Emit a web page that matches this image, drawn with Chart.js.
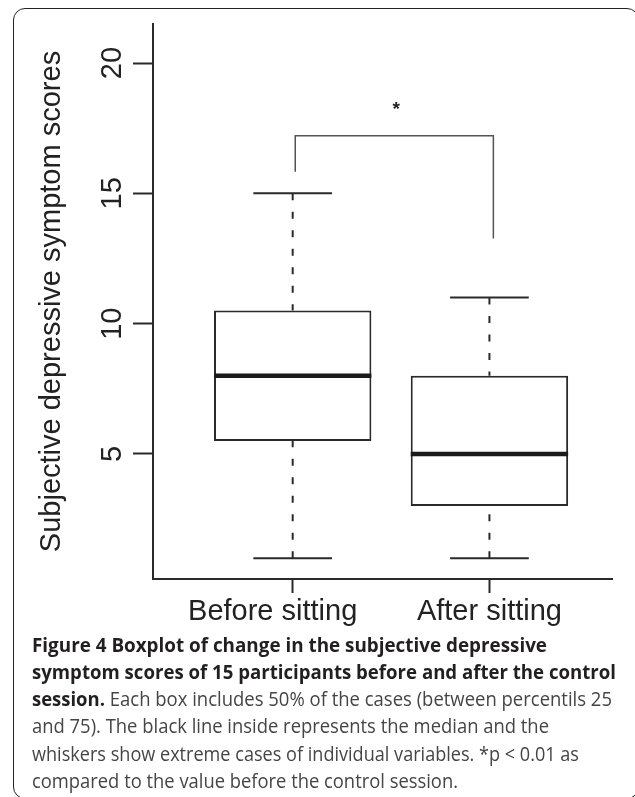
<!DOCTYPE html>
<html>
<head>
<meta charset="utf-8">
<script src="https://cdn.jsdelivr.net/npm/chart.js@4.4.1/dist/chart.umd.min.js"></script>
<style>
  html, body { margin: 0; padding: 0; background: #fff; }
  body { width: 635px; height: 797px; position: relative; overflow: hidden; }
  #frame { position: absolute; left: 13px; top: 8px; width: 626px; height: 791px;
           border: 1.5px solid #222; border-radius: 12px; box-sizing: border-box; }
  #wrap { position: absolute; left: 0; top: 0; width: 635px; height: 640px; }
  .ln { position: absolute; left: 32px; white-space: nowrap; font-family: 'Open Sans', 'Noto Sans', sans-serif;
        font-size: 20px; line-height: 20px; color: #454545; transform-origin: 0 0; }
  .ln b { color: #231f20; font-weight: 700; }
</style>
</head>
<body>
<div id="frame"></div>
<div id="wrap"><canvas id="chart" width="635" height="640"></canvas></div>

<div class="ln" style="top:635px"><b>Figure 4 Boxplot of change in the subjective depressive</b></div>
<div class="ln" style="top:662px"><b>symptom scores of 15 participants before and after the control</b></div>
<div class="ln" style="top:689px"><b>session.</b> Each box includes 50% of the cases (between percentils 25</div>
<div class="ln" style="top:716px">and 75). The black line inside represents the median and the</div>
<div class="ln" style="top:744px">whiskers show extreme cases of individual variables. *p &lt; 0.01 as</div>
<div class="ln" style="top:771px">compared to the value before the control session.</div>

<script>
// Box plot statistics, one entry per group
const categories = ['Before sitting', 'After sitting'];
const positions = [1, 2];
const whiskerLow = [1, 1];
const quartile1 = [5.5, 3];
const medians = [8, 5];
const quartile3 = [10.5, 8];
const whiskerHigh = [15, 11];
const yTickValues = [5, 10, 15, 20];

// significance bracket between the two groups (*p < 0.01)
const bracketX = [1.013, 2.02];
const bracketTop = 17.21;
const bracketEnds = [15.83, 13.27];
const starLabel = '*';
const starPos = [1.526, 18.42];

// caption line widths in the figure, used to squeeze the text to fit
const captionWidths = [515, 584, 580, 517, 547, 426];

const BOX_HALF = 0.4;
const CAP_HALF = 0.2;
const ink = '#2a2a2a';
const xLabelShift = [-20, 0];

Chart.defaults.font.family = '"Liberation Sans", Arial, Helvetica, sans-serif';
Chart.defaults.color = '#222';

function seg(x0, y0, x1, y1) {
  return [{x: x0, y: y0}, {x: x1, y: y1}];
}

function lineSet(data, width, color, dash) {
  return {
    type: 'line',
    data: data,
    borderColor: color,
    borderWidth: width,
    borderDash: dash || [],
    pointRadius: 0,
    fill: false,
    tension: 0,
    order: 1
  };
}

const datasets = [];
positions.forEach((p, i) => {
  const med = lineSet(seg(p - BOX_HALF, medians[i], p + BOX_HALF, medians[i]), 4.5, '#1b1b1b');
  med.order = 0;
  datasets.push(med);
  // whiskers are drawn from the extreme towards the box, like R does
  datasets.push(lineSet(seg(p, whiskerHigh[i], p, quartile3[i]), 2, ink, [7, 11.5]));
  datasets.push(lineSet(seg(p, whiskerLow[i], p, quartile1[i]), 2, ink, [7, 11.5]));
  datasets.push(lineSet(seg(p - CAP_HALF, whiskerHigh[i], p + CAP_HALF, whiskerHigh[i]), 2, ink));
  datasets.push(lineSet(seg(p - CAP_HALF, whiskerLow[i], p + CAP_HALF, whiskerLow[i]), 2, ink));
});

datasets.push(lineSet([
  {x: bracketX[0], y: bracketEnds[0]},
  {x: bracketX[0], y: bracketTop},
  {x: bracketX[1], y: bracketTop},
  {x: bracketX[1], y: bracketEnds[1]}
], 1.5, '#555'));

datasets.push({
  type: 'bar',
  data: positions.map((p, i) => ({x: p, y: [quartile1[i], quartile3[i]]})),
  backgroundColor: '#fff',
  borderColor: ink,
  borderWidth: 2,
  borderSkipped: false,
  barPercentage: 0.8,
  categoryPercentage: 1,
  order: 2
});

// x labels and the asterisk are drawn by hand
const labelPlugin = {
  id: 'boxLabels',
  afterDraw(chart) {
    const {ctx, chartArea} = chart;
    const x = chart.scales.x, y = chart.scales.y;
    ctx.save();
    ctx.fillStyle = '#222';
    ctx.textAlign = 'center';
    ctx.textBaseline = 'alphabetic';
    ctx.font = '29px "Liberation Sans", Arial, sans-serif';
    categories.forEach((c, i) => {
      ctx.fillText(c, x.getPixelForValue(positions[i]) + xLabelShift[i], chartArea.bottom + 41);
    });
    ctx.font = 'bold 19px "Liberation Sans", Arial, sans-serif';
    ctx.fillText(starLabel, x.getPixelForValue(starPos[0]), y.getPixelForValue(starPos[1]) + 11);
    ctx.restore();
  }
};

new Chart(document.getElementById('chart').getContext('2d'), {
  type: 'bar',
  data: { datasets: datasets },
  plugins: [labelPlugin],
  options: {
    responsive: false,
    animation: false,
    events: [],
    layout: { padding: { top: 24, right: 23, bottom: 0, left: 0 } },
    plugins: { legend: { display: false }, tooltip: { enabled: false } },
    scales: {
      x: {
        type: 'linear',
        min: 0.29,
        max: 2.623,
        offset: false,
        afterBuildTicks: scale => { scale.ticks = positions.map(v => ({value: v})); },
        afterFit: scale => { scale.height = 61; },
        ticks: { display: false },
        grid: { offset: false, drawOnChartArea: false, drawTicks: true, tickLength: 14, tickColor: ink, tickWidth: 2 },
        border: { display: true, color: ink, width: 2 }
      },
      y: {
        type: 'linear',
        min: 0.2,
        max: 21.5,
        afterBuildTicks: scale => { scale.ticks = yTickValues.map(v => ({value: v})); },
        afterFit: scale => { scale.width = 153; },
        ticks: {
          minRotation: 90,
          maxRotation: 90,
          crossAlign: 'center',
          padding: 4,
          color: '#222',
          font: { size: 29 }
        },
        grid: { drawOnChartArea: false, drawTicks: true, tickLength: 20, tickColor: ink, tickWidth: 2 },
        border: { display: true, color: ink, width: 2 },
        title: {
          display: true,
          text: 'Subjective depressive symptom scores',
          color: '#222',
          font: { size: 29 },
          padding: { top: 35, bottom: 0 }
        }
      }
    }
  }
});

function fitCaption() {
  document.querySelectorAll('.ln').forEach((el, i) => {
    el.style.transform = 'none';
    const w = el.getBoundingClientRect().width;
    if (w > 0) el.style.transform = 'scaleX(' + (captionWidths[i] / w) + ')';
  });
}
fitCaption();
if (document.fonts) document.fonts.ready.then(fitCaption);
</script>
</body>
</html>
